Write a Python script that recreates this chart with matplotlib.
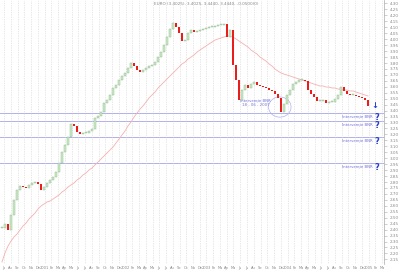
import matplotlib
matplotlib.use("Agg")
import numpy as np
import matplotlib.pyplot as plt
from matplotlib.patches import Ellipse

# closing prices (one bar ~ every 2 weeks)
closes = [2.414, 2.447, 2.397, 2.523, 2.649, 2.733, 2.766, 2.758, 2.750, 2.775,
          2.792, 2.800, 2.783, 2.733, 2.758, 2.792, 2.817, 2.842, 2.884, 2.960,
          3.052, 3.111, 3.178, 3.287, 3.271, 3.220, 3.204, 3.212, 3.212, 3.229,
          3.246, 3.338, 3.355, 3.388, 3.464, 3.489, 3.531, 3.590, 3.615, 3.657,
          3.691, 3.716, 3.758, 3.800, 3.775, 3.741, 3.724, 3.741, 3.758, 3.775,
          3.783, 3.808, 3.850, 3.892, 3.951, 4.018, 4.085, 4.136, 4.102, 4.052,
          3.985, 3.993, 4.052, 4.077, 4.060, 4.069, 4.077, 4.085, 4.094, 4.102,
          4.102, 4.111, 4.119, 4.119, 4.128, 4.018, 4.077, 3.783, 3.657, 3.489,
          3.573, 3.615, 3.590, 3.623, 3.640, 3.615, 3.607, 3.598, 3.590, 3.573,
          3.565, 3.539, 3.506, 3.388, 3.455, 3.531, 3.573, 3.623, 3.640, 3.657,
          3.657, 3.649, 3.573, 3.539, 3.514, 3.481, 3.481, 3.489, 3.464, 3.472,
          3.472, 3.497, 3.531, 3.598, 3.565, 3.539, 3.531, 3.531, 3.523, 3.514,
          3.506, 3.489, 3.439]

# moving average (pink line)
ma = [2.128, 2.203, 2.262, 2.304, 2.338, 2.363, 2.397, 2.430, 2.455, 2.489,
      2.514, 2.539, 2.573, 2.598, 2.615, 2.632, 2.640, 2.657, 2.674, 2.691,
      2.716, 2.733, 2.758, 2.775, 2.792, 2.817, 2.834, 2.859, 2.876, 2.901,
      2.918, 2.943, 2.968, 2.993, 3.019, 3.044, 3.069, 3.094, 3.128, 3.161,
      3.195, 3.229, 3.271, 3.304, 3.346, 3.380, 3.413, 3.439, 3.472, 3.506,
      3.531, 3.556, 3.590, 3.615, 3.640, 3.666, 3.691, 3.716, 3.741, 3.766,
      3.792, 3.808, 3.833, 3.850, 3.867, 3.892, 3.909, 3.926, 3.943, 3.960,
      3.976, 3.993, 4.002, 4.010, 4.018, 4.027, 4.027, 4.018, 4.002, 3.985,
      3.968, 3.951, 3.934, 3.909, 3.892, 3.875, 3.850, 3.833, 3.816, 3.792,
      3.775, 3.749, 3.732, 3.716, 3.707, 3.699, 3.691, 3.682, 3.674, 3.666,
      3.657, 3.649, 3.640, 3.632, 3.623, 3.615, 3.607, 3.607, 3.598, 3.598,
      3.590, 3.590, 3.581, 3.581, 3.573, 3.573, 3.565, 3.565, 3.556, 3.548,
      3.539, 3.531, 3.523]

levels = [3.380, 3.313, 3.178, 2.960]
level_labels = ["Intervenţie BNR", "Intervenţie BNR", "Intervenţie BNR", "Intervenţie BNR"]

months = ["Ju", "Au", "Se", "Oc", "No", "De", "2001", "Fe", "Ma", "Ap", "Ma", "Ju",
          "Ju", "Au", "Se", "Oc", "No", "De", "2002", "Fe", "Ma", "Ap", "Ma", "Ju",
          "Ju", "Au", "Se", "Oc", "No", "De", "2003", "Fe", "Ma", "Ap", "Ma", "Ju",
          "Ju", "Au", "Se", "Oc", "No", "De", "2004", "Fe", "Ma", "Ap", "Ma", "Ju",
          "Ju", "Au", "Se", "Oc", "No", "De", "2005", "Fe", "Ma"]

title = "EURO (3.4025), 3.4025, 3.4440, 3.4440, -0.0500(0)"

fig = plt.figure(figsize=(4, 2.74), dpi=100)
ax = fig.add_axes([0, 10 / 274, 384 / 400, 264 / 274])

n = len(closes)
x = np.arange(n)
opens = [closes[0]] + closes[:-1]
for i in range(n):
    o, c = opens[i], closes[i]
    if c >= o:
        ax.bar(i, max(c - o, 0.006), bottom=o, width=0.42, color="#cfe8c8",
               edgecolor="#86b886", linewidth=0.3, zorder=3)
    else:
        ax.bar(i, o - c, bottom=c, width=0.42, color="#ea1c1c", linewidth=0, zorder=3)

m = min(len(ma), n)
ax.plot(x[:m], ma[:m], color="#f6b0b0", lw=0.6, zorder=2)

for lv, lab in zip(levels, level_labels):
    ax.axhline(lv, color="#b0b0ee", lw=0.7, zorder=1)
    ax.text(118.5, lv - 0.035, lab, fontsize=2.8, color="#7070dc", ha="center", va="center")
    ax.text(125, lv - 0.035, "?", fontsize=6, color="#2a3fd0", ha="center", va="center",
            fontweight="bold")

ax.text(124.3, 3.44, "\u2193", fontsize=6, color="#2a3fd0", ha="center", va="center",
        fontweight="bold")

ax.add_patch(Ellipse((92.6, 3.43), 7.5, 0.17, fill=False, edgecolor="#b0b0ee", lw=0.5))
ax.text(84.5, 3.465, "Intervenţie BNR\n18 - 06 - 2007", fontsize=2.8, color="#7070dc",
        ha="center", va="center", linespacing=1.2)

ax.text(68, 4.296, title, fontsize=3, color="#888888", ha="center", va="center")

ax.set_xlim(-0.67, 127.33)
ax.set_ylim(2.111, 4.3294)

pos = [(4 + 6.75 * k) / 3 - 0.67 for k in range(len(months))]
ax.set_xticks(pos)
ax.set_xticklabels(months, fontsize=2.6, color="#888888")
ax.tick_params(axis="x", length=0, pad=1.5)
ax.grid(axis="x", color="#d0d0d0", linestyle=(0, (1, 1.5)), lw=0.5)

ax.yaxis.tick_right()
ax.set_yticks(np.round(np.arange(2.15, 4.301, 0.05), 2))
ax.set_yticklabels(["%.2f" % v for v in np.arange(2.15, 4.301, 0.05)], fontsize=3,
                   color="#888888")
ax.tick_params(axis="y", length=2, width=0.4, color="#aaaaaa", pad=2)
for s in ["left", "top", "bottom"]:
    ax.spines[s].set_visible(False)
ax.spines["right"].set_color("#aaaaaa")
ax.spines["right"].set_linewidth(0.5)

fig.savefig("out.png", dpi=100)
